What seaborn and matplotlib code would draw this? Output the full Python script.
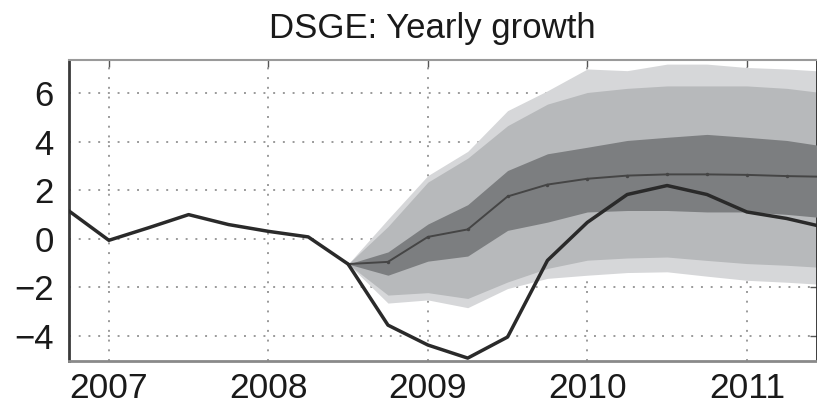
import numpy as np
import pandas as pd
import matplotlib
matplotlib.use("Agg")
import matplotlib.pyplot as plt
import seaborn as sns

# Quarterly observed yearly growth
obs_dates = [2006.75, 2007.0, 2007.25, 2007.5, 2007.75, 2008.0, 2008.25, 2008.5,
             2008.75, 2009.0, 2009.25, 2009.5, 2009.75, 2010.0, 2010.25, 2010.5,
             2010.75, 2011.0, 2011.25, 2011.5]
obs_growth = [1.14, -0.07, 0.45, 0.99, 0.58, 0.3, 0.07, -1.05,
              -3.57, -4.39, -4.93, -4.06, -0.9, 0.67, 1.82, 2.19,
              1.82, 1.1, 0.83, 0.45]

# DSGE forecast: median and probability bands
fc_dates = [2008.5, 2008.75, 2009.0, 2009.25, 2009.5, 2009.75, 2010.0,
            2010.25, 2010.5, 2010.75, 2011.0, 2011.25, 2011.5]
fc_median = [-1.05, -0.96, 0.07, 0.38, 1.74, 2.23, 2.47, 2.6, 2.65, 2.65, 2.63, 2.58, 2.55]
inner_hi = [-1.05, -0.55, 0.6, 1.4, 2.81, 3.5, 3.77, 4.05, 4.18, 4.3, 4.18, 4.05, 3.8]
inner_lo = [-1.05, -1.51, -0.93, -0.72, 0.34, 0.68, 1.1, 1.16, 1.16, 1.1, 1.1, 1.0, 0.85]
middle_hi = [-1.05, 0.5, 2.33, 3.32, 4.66, 5.55, 6.03, 6.2, 6.3, 6.3, 6.3, 6.2, 6.0]
middle_lo = [-1.05, -2.33, -2.23, -2.47, -1.79, -1.23, -0.89, -0.8, -0.76, -0.9, -1.03, -1.1, -1.2]
outer_hi = [-1.05, 0.8, 2.6, 3.6, 5.28, 6.1, 7.0, 6.93, 7.2, 7.2, 7.06, 7.0, 6.9]
outer_lo = [-1.05, -2.66, -2.53, -2.85, -2.06, -1.64, -1.51, -1.4, -1.37, -1.55, -1.72, -1.8, -1.9]

x_ticks = [2007, 2008, 2009, 2010, 2011]
y_ticks = [-4, -2, 0, 2, 4, 6]

sns.set_theme(style="white")
plt.rcParams["font.family"] = ["Liberation Sans", "DejaVu Sans"]

fig = plt.figure(figsize=(8.17, 4.07), dpi=100)
ax = fig.add_axes([69 / 817, 1 - 361 / 407, 1 - 69 / 817, (361 - 60) / 407])

ax.fill_between(fc_dates, outer_lo, outer_hi, color="#d6d7d9", lw=0, zorder=1)
ax.fill_between(fc_dates, middle_lo, middle_hi, color="#b7b9bb", lw=0, zorder=2)
ax.fill_between(fc_dates, inner_lo, inner_hi, color="#7c7e80", lw=0, zorder=3)

fc = pd.DataFrame({"date": fc_dates, "growth": fc_median})
obs = pd.DataFrame({"date": obs_dates, "growth": obs_growth})
sns.lineplot(data=fc, x="date", y="growth", ax=ax, color="#454545", lw=1.4,
             marker="o", markersize=2.5, markeredgewidth=0, zorder=4)
sns.lineplot(data=obs, x="date", y="growth", ax=ax, color="#2a2a2a", lw=2.5, zorder=5)

ax.set_xlim(2006.75, 2011.44)
ax.set_ylim(-5.05, 7.37)
ax.set_xticks(x_ticks)
ax.set_xticklabels([str(t) for t in x_ticks])
ax.set_yticks(y_ticks)
ax.set_xlabel("")
ax.set_ylabel("")

ax.grid(True, color="#9a9a9a", linestyle=(0, (1, 4)), linewidth=1.4)
ax.set_axisbelow(True)

ax.tick_params(axis="both", direction="in", length=5, width=1, colors="#555555",
               labelcolor="#1a1a1a", top=True, right=True)
ax.tick_params(axis="y", pad=11, labelsize=25)
ax.tick_params(axis="x", pad=8, labelsize=25.5)

for side in ["left", "bottom", "top", "right"]:
    ax.spines[side].set_visible(True)
ax.spines["left"].set_color("#3a3a3a")
ax.spines["left"].set_linewidth(2.0)
ax.spines["bottom"].set_color("#8a8a8a")
ax.spines["bottom"].set_linewidth(2.0)
ax.spines["top"].set_color("#9a9a9a")
ax.spines["top"].set_linewidth(1.5)

fig.text(432 / 817, 1 - 38 / 407, "DSGE: Yearly growth", ha="center", va="baseline",
         fontsize=25, color="#1a1a1a")

fig.savefig("out.png", dpi=100)
